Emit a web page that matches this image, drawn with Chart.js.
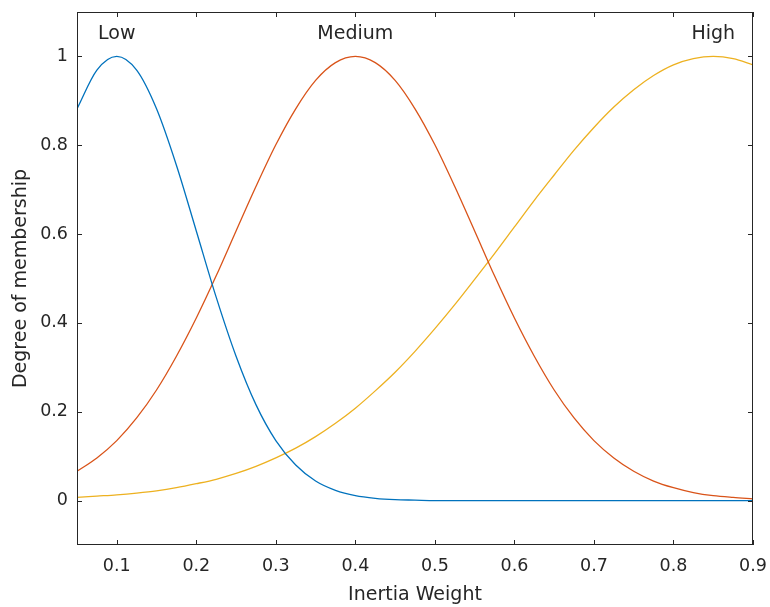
<!DOCTYPE html>
<html>
<head>
<meta charset="utf-8">
<script src="https://cdn.jsdelivr.net/npm/chart.js@4.4.1/dist/chart.umd.min.js"></script>
<style>
    html, body { margin: 0; padding: 0; background: #ffffff; }
    #wrap { width: 770px; height: 607px; }
</style>
</head>
<body>
<div id="wrap"><canvas id="mfChart" width="770" height="607"></canvas></div>
<script>
const xValues = [
    0.05, 0.075, 0.1, 0.125, 0.15, 0.175, 0.2, 0.225, 0.25, 0.275,
    0.3, 0.325, 0.35, 0.375, 0.4, 0.425, 0.45, 0.475, 0.5, 0.525,
    0.55, 0.575, 0.6, 0.625, 0.65, 0.675, 0.7, 0.725, 0.75, 0.775,
    0.8, 0.825, 0.85, 0.875, 0.9
];
const lowValues = [
    0.882, 0.969, 1.0, 0.969, 0.882, 0.755, 0.607, 0.458, 0.325, 0.216,
    0.135, 0.080, 0.044, 0.023, 0.011, 0.005, 0.002, 0.001, 0.0, 0.0,
    0.0, 0.0, 0.0, 0.0, 0.0, 0.0, 0.0, 0.0, 0.0, 0.0,
    0.0, 0.0, 0.0, 0.0, 0.0
];
const mediumValues = [
    0.066, 0.096, 0.135, 0.186, 0.249, 0.325, 0.411, 0.506, 0.607, 0.707,
    0.801, 0.882, 0.946, 0.986, 1.0, 0.986, 0.946, 0.882, 0.801, 0.707,
    0.607, 0.506, 0.411, 0.325, 0.249, 0.186, 0.135, 0.096, 0.066, 0.044,
    0.029, 0.018, 0.011, 0.007, 0.004
];
const highValues = [
    0.007, 0.010, 0.013, 0.017, 0.022, 0.029, 0.038, 0.048, 0.061, 0.077,
    0.096, 0.118, 0.144, 0.174, 0.208, 0.247, 0.289, 0.336, 0.387, 0.441,
    0.498, 0.556, 0.616, 0.676, 0.733, 0.789, 0.840, 0.886, 0.925, 0.957,
    0.981, 0.995, 1.0, 0.995, 0.981
];
const mfNames = ["Low", "Medium", "High"];
const mfLabelX = [0.1, 0.4, 0.85];
const mfLabelY = 1.05;
const xTicks = [0.1, 0.2, 0.3, 0.4, 0.5, 0.6, 0.7, 0.8, 0.9];
const yTicks = [0, 0.2, 0.4, 0.6, 0.8, 1];

const textColor = '#262626';
const fontFamily = "'DejaVu Sans', sans-serif";

function toPoints(ys) {
    return xValues.map((x, i) => ({ x: x, y: ys[i] }));
}

function fmtTick(v) {
    return String(Math.round(v * 10) / 10);
}

// MATLAB-style box with inward ticks on all four sides, plus the MF names
const axesBox = {
    id: 'axesBox',
    afterDatasetsDraw(chart) {
        const { ctx, chartArea: a, scales } = chart;
        const tl = 5;
        ctx.save();
        ctx.strokeStyle = textColor;
        ctx.lineWidth = 1;
        ctx.strokeRect(a.left + 0.5, a.top + 0.5, a.right - a.left - 1, a.bottom - a.top - 1);
        ctx.beginPath();
        xTicks.forEach(v => {
            const px = Math.round(scales.x.getPixelForValue(v)) + 0.5;
            ctx.moveTo(px, a.bottom); ctx.lineTo(px, a.bottom - tl);
            ctx.moveTo(px, a.top); ctx.lineTo(px, a.top + tl);
        });
        yTicks.forEach(v => {
            const py = Math.round(scales.y.getPixelForValue(v)) + 0.5;
            ctx.moveTo(a.left, py); ctx.lineTo(a.left + tl, py);
            ctx.moveTo(a.right, py); ctx.lineTo(a.right - tl, py);
        });
        ctx.stroke();

        ctx.fillStyle = textColor;
        ctx.font = "19px " + fontFamily;
        ctx.textAlign = 'center';
        ctx.textBaseline = 'middle';
        mfNames.forEach((name, i) => {
            ctx.fillText(name, scales.x.getPixelForValue(mfLabelX[i]), scales.y.getPixelForValue(mfLabelY));
        });
        ctx.restore();
    }
};

const ctx = document.getElementById('mfChart').getContext('2d');
new Chart(ctx, {
    type: 'line',
    data: {
        datasets: [
            { label: 'Low', data: toPoints(lowValues), borderColor: '#0072BD' },
            { label: 'Medium', data: toPoints(mediumValues), borderColor: '#D95319' },
            { label: 'High', data: toPoints(highValues), borderColor: '#EDB120' }
        ]
    },
    options: {
        responsive: false,
        animation: false,
        events: [],
        layout: { padding: { top: 12, right: 17, left: 0, bottom: 0 } },
        elements: {
            point: { radius: 0 },
            line: { borderWidth: 1.3, cubicInterpolationMode: 'monotone', fill: false }
        },
        scales: {
            x: {
                type: 'linear',
                min: 0.05,
                max: 0.9,
                afterBuildTicks: s => { s.ticks = xTicks.map(v => ({ value: v })); },
                afterFit: s => { s.height = 62; s.paddingLeft = 0; s.paddingRight = 0; },
                grid: { display: false, drawTicks: false, tickLength: 0 },
                border: { display: false },
                ticks: {
                    color: textColor,
                    padding: 11,
                    maxRotation: 0,
                    autoSkip: false,
                    font: { family: fontFamily, size: 17.5 },
                    callback: v => fmtTick(v)
                },
                title: {
                    display: true,
                    text: 'Inertia Weight',
                    color: textColor,
                    padding: { top: 0, bottom: 1 },
                    font: { family: fontFamily, size: 19 }
                }
            },
            y: {
                type: 'linear',
                min: -0.1,
                max: 1.1,
                afterBuildTicks: s => { s.ticks = yTicks.map(v => ({ value: v })); },
                afterFit: s => { s.width = 77; s.paddingTop = 0; s.paddingBottom = 0; },
                grid: { display: false, drawTicks: false, tickLength: 0 },
                border: { display: false },
                ticks: {
                    color: textColor,
                    padding: 9,
                    autoSkip: false,
                    font: { family: fontFamily, size: 17.5 },
                    callback: v => fmtTick(v)
                },
                title: {
                    display: true,
                    text: 'Degree of membership',
                    color: textColor,
                    padding: { top: 10, bottom: 0 },
                    font: { family: fontFamily, size: 19 }
                }
            }
        },
        plugins: {
            legend: { display: false },
            tooltip: { enabled: false }
        }
    },
    plugins: [axesBox]
});
</script>
</body>
</html>
